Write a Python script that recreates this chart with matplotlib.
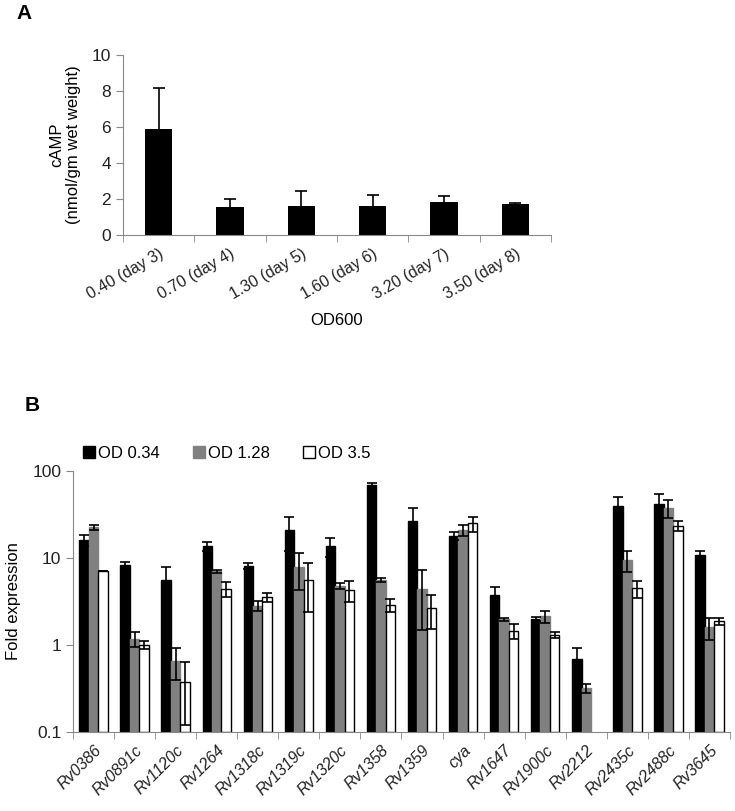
import matplotlib
matplotlib.use("Agg")
import matplotlib.pyplot as plt
import numpy as np

plt.rcParams["font.family"] = ["Liberation Sans", "DejaVu Sans"]

# ---------------------------
# Panel A data: cAMP levels
# ---------------------------
od_labels = ["0.40 (day 3)", "0.70 (day 4)", "1.30 (day 5)",
             "1.60 (day 6)", "3.20 (day 7)", "3.50 (day 8)"]
camp = [5.9, 1.55, 1.63, 1.63, 1.83, 1.72]
camp_err = [2.27, 0.43, 0.82, 0.57, 0.34, 0.06]

# ---------------------------
# Panel B data: fold expression
# ---------------------------
genes = ["Rv0386", "Rv0891c", "Rv1120c", "Rv1264", "Rv1318c", "Rv1319c",
         "Rv1320c", "Rv1358", "Rv1359", "cya", "Rv1647", "Rv1900c",
         "Rv2212", "Rv2435c", "Rv2488c", "Rv3645"]
od034 = [16.1, 8.4, 5.6, 13.6, 8.1, 21.0, 13.6, 69.0, 26.8, 18.0, 3.8, 2.0,
         0.69, 40.0, 42.0, 10.9]
od034_err = [2.4, 0.5, 2.2, 1.6, 0.7, 9.0, 3.2, 3.0, 10.5, 2.0, 0.9, 0.1,
             0.23, 10.0, 13.0, 1.1]
od128 = [22.5, 1.17, 0.66, 7.0, 2.83, 7.8, 4.8, 5.6, 4.4, 21.0, 1.97, 2.14,
         0.32, 9.5, 37.6, 1.6]
od128_err = [1.6, 0.23, 0.26, 0.3, 0.35, 3.5, 0.35, 0.3, 2.9, 3.0, 0.08, 0.34,
             0.04, 2.6, 9.0, 0.45]
od35 = [7.0, 1.0, 0.38, 4.4, 3.54, 5.6, 4.3, 2.9, 2.64, 25.0, 1.46, 1.30,
        np.nan, 4.5, 23.5, 1.87]
od35_err = [0.0, 0.1, 0.26, 0.85, 0.4, 3.2, 1.2, 0.5, 1.12, 5.0, 0.3, 0.1,
            0.0, 1.0, 3.3, 0.16]

fig = plt.figure(figsize=(7.35, 8.11), dpi=100)

# ---------------------------
# Panel A
# ---------------------------
axA = fig.add_axes([0.1673, 0.7102, 0.5823, 0.2219])
xa = np.arange(len(od_labels))
axA.bar(xa, camp, width=0.38, color="black", zorder=2)
axA.errorbar(xa, camp, yerr=camp_err, fmt="none", ecolor="black",
             elinewidth=1.2, capsize=4, capthick=1.2, zorder=3)
axA.set_xlim(-0.5, len(od_labels) - 0.5)
axA.set_ylim(0, 10)
axA.set_yticks([0, 2, 4, 6, 8, 10])
axA.set_xticks(xa)
axA.set_xticklabels(od_labels, rotation=30, ha="right", rotation_mode="anchor",
                    fontsize=11.5, color="#222222")
axA.set_xticks(np.arange(len(od_labels) + 1) - 0.5, minor=True)
axA.tick_params(axis="x", which="major", length=0, pad=8)
axA.tick_params(axis="x", which="minor", length=5, color="#888888")
axA.tick_params(axis="y", labelsize=12.5, length=5, color="#888888",
                labelcolor="#222222")
for s in ["top", "right"]:
    axA.spines[s].set_visible(False)
for s in ["left", "bottom"]:
    axA.spines[s].set_color("#888888")
axA.set_ylabel("cAMP\n(nmol/gm wet weight)", fontsize=12, labelpad=8,
               linespacing=1.1)
axA.set_xlabel("OD600", fontsize=12, labelpad=8)
fig.text(0.023, 0.983, "A", fontsize=15, fontweight="bold", va="center")

# ---------------------------
# Panel B
# ---------------------------
axB = fig.add_axes([0.0993, 0.0974, 0.8939, 0.3218])
ymin = 0.1
axB.set_yscale("log")
xb = np.arange(len(genes))
w = 0.23
series = [(od034, od034_err, "black", "OD 0.34", -w),
          (od128, od128_err, "#808080", "OD 1.28", 0.0),
          (od35, od35_err, "white", "OD 3.5", w)]
for vals, errs, col, lab, off in series:
    vals = np.array(vals, dtype=float)
    errs = np.array(errs, dtype=float)
    axB.bar(xb + off, vals - ymin, bottom=ymin, width=w, color=col,
            edgecolor="black" if col == "white" else col, linewidth=1.0,
            label=lab, zorder=2)
    lower = np.minimum(errs, vals - ymin * 1.2)
    axB.errorbar(xb + off, vals, yerr=[lower, errs], fmt="none",
                 ecolor="black", elinewidth=1.2, capsize=3.5, capthick=1.2,
                 zorder=3)
axB.set_ylim(0.1, 100)
axB.set_xlim(-0.5, len(genes) - 0.5)
axB.set_yticks([0.1, 1, 10, 100])
axB.set_yticklabels(["0.1", "1", "10", "100"])
axB.minorticks_off()
axB.set_xticks(xb)
axB.set_xticklabels(genes, rotation=45, ha="right", rotation_mode="anchor",
                    fontsize=11.5, style="italic", color="#222222")
axB.set_xticks(np.arange(len(genes) + 1) - 0.5, minor=True)
axB.tick_params(axis="x", which="major", length=0, pad=8)
axB.tick_params(axis="x", which="minor", length=5, color="#888888")
axB.tick_params(axis="y", which="major", labelsize=12.5, length=5,
                color="#888888", labelcolor="#222222")
for s in ["top", "right"]:
    axB.spines[s].set_visible(False)
for s in ["left", "bottom"]:
    axB.spines[s].set_color("#888888")
axB.set_ylabel("Fold expression", fontsize=12, labelpad=8)
axB.legend(loc="lower left", bbox_to_anchor=(0.0, 1.0), ncol=3, frameon=False,
           fontsize=12, handlelength=0.7, handleheight=0.7, handletextpad=0.2,
           columnspacing=2.0, borderaxespad=0.2)
fig.text(0.034, 0.500, "B", fontsize=15, fontweight="bold", va="center")

fig.savefig("out.png", dpi=100)
